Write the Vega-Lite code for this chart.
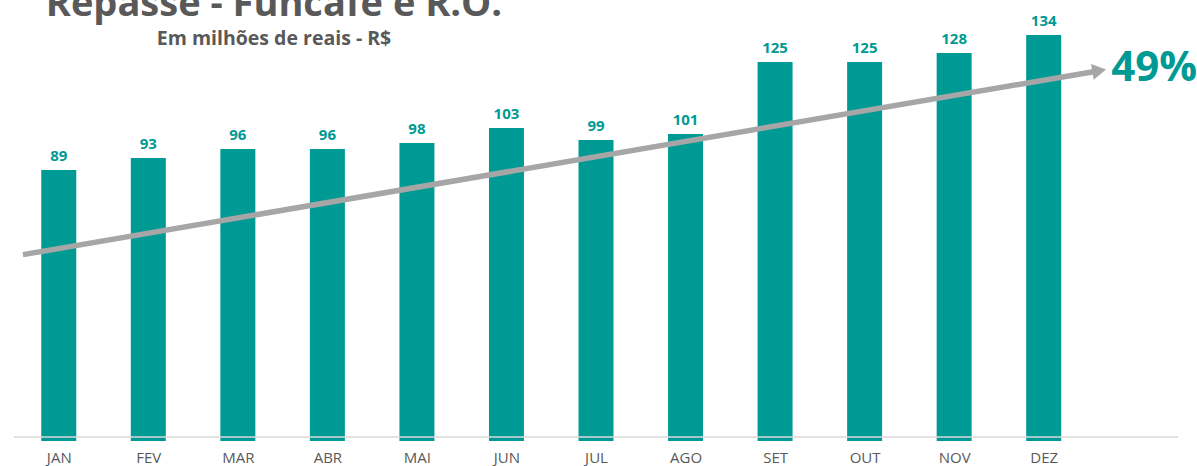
{
  "$schema": "https://vega.github.io/schema/vega-lite/v6.json",
  "autosize": {"type": "none"},
  "width": 1164,
  "height": 424,
  "padding": {"left": 14, "top": 17, "right": 19, "bottom": 25},
  "background": "white",
  "config": {"view": {"stroke": null}},
  "title": {
    "text": "Repasse - Funcafe e R.O.",
    "subtitle": "Em milhões de reais - R$",
    "anchor": "middle",
    "frame": "group",
    "dx": -322,
    "offset": -34,
    "subtitlePadding": 6,
    "font": "Open Sans",
    "fontSize": 38,
    "fontWeight": "bold",
    "color": "#595959",
    "subtitleFont": "Open Sans",
    "subtitleFontSize": 19.5,
    "subtitleFontWeight": "bold",
    "subtitleColor": "#595959"
  },
  "datasets": {
    "bars": [
      {"i": 1, "mes": "JAN", "valor": 89},
      {"i": 2, "mes": "FEV", "valor": 93},
      {"i": 3, "mes": "MAR", "valor": 96},
      {"i": 4, "mes": "ABR", "valor": 96},
      {"i": 5, "mes": "MAI", "valor": 98},
      {"i": 6, "mes": "JUN", "valor": 103},
      {"i": 7, "mes": "JUL", "valor": 99},
      {"i": 8, "mes": "AGO", "valor": 101},
      {"i": 9, "mes": "SET", "valor": 125},
      {"i": 10, "mes": "OUT", "valor": 125},
      {"i": 11, "mes": "NOV", "valor": 128},
      {"i": 12, "mes": "DEZ", "valor": 134}
    ],
    "trend": [
      {"pos": 0.6, "v": 60.8, "label": ""},
      {"pos": 12.62, "v": 122.1, "label": "49%"}
    ]
  },
  "layer": [
    {
      "data": {"name": "bars"},
      "mark": {"type": "bar", "color": "#009A94", "width": 35},
      "encoding": {
        "x": {
          "field": "i",
          "type": "quantitative",
          "scale": {"domain": [0.5, 13.5], "nice": false, "zero": false, "padding": 0},
          "axis": {
            "title": null,
            "domain": false,
            "ticks": false,
            "grid": false,
            "values": [1, 2, 3, 4, 5, 6, 7, 8, 9, 10, 11, 12],
            "labelExpr": "['JAN','FEV','MAR','ABR','MAI','JUN','JUL','AGO','SET','OUT','NOV','DEZ'][datum.value - 1]",
            "labelFlush": false,
            "labelOverlap": false,
            "labelFont": "Open Sans",
            "labelFontSize": 15,
            "labelColor": "#595959",
            "labelBaseline": "alphabetic",
            "labelPadding": 21
          }
        },
        "y": {
          "field": "valor",
          "type": "quantitative",
          "scale": {"domain": [-1.33, 140], "nice": false, "zero": false},
          "axis": null
        },
        "y2": {"datum": -1.33}
      }
    },
    {
      "data": {"values": [{"base": 0}]},
      "mark": {"type": "rule", "color": "#D9D9D9", "strokeWidth": 1.5},
      "encoding": {"y": {"field": "base", "type": "quantitative"}}
    },
    {
      "data": {"name": "bars"},
      "mark": {
        "type": "text",
        "font": "Open Sans",
        "fontSize": 15,
        "fontWeight": "bold",
        "color": "#009A94",
        "baseline": "alphabetic",
        "dy": -9
      },
      "encoding": {
        "x": {"field": "i", "type": "quantitative"},
        "y": {"field": "valor", "type": "quantitative"},
        "text": {"field": "valor", "type": "quantitative"}
      }
    },
    {
      "data": {"name": "trend"},
      "mark": {"type": "line", "color": "#A6A6A6", "strokeWidth": 5.5, "strokeCap": "butt"},
      "encoding": {
        "x": {"field": "pos", "type": "quantitative"},
        "y": {"field": "v", "type": "quantitative"}
      }
    },
    {
      "data": {"name": "trend"},
      "transform": [{"filter": "datum.label != ''"}],
      "mark": {"type": "point", "shape": "triangle-right", "filled": true, "color": "#A6A6A6", "opacity": 1, "size": 256, "angle": 350.3},
      "encoding": {
        "x": {"field": "pos", "type": "quantitative"},
        "y": {"field": "v", "type": "quantitative"}
      }
    },
    {
      "data": {"name": "trend"},
      "transform": [{"filter": "datum.label != ''"}],
      "mark": {
        "type": "text",
        "font": "Open Sans",
        "fontSize": 42,
        "fontWeight": "bold",
        "color": "#009A94",
        "align": "left",
        "baseline": "middle",
        "dx": 12,
        "dy": -3
      },
      "encoding": {
        "x": {"field": "pos", "type": "quantitative"},
        "y": {"field": "v", "type": "quantitative"},
        "text": {"field": "label"}
      }
    }
  ]
}
